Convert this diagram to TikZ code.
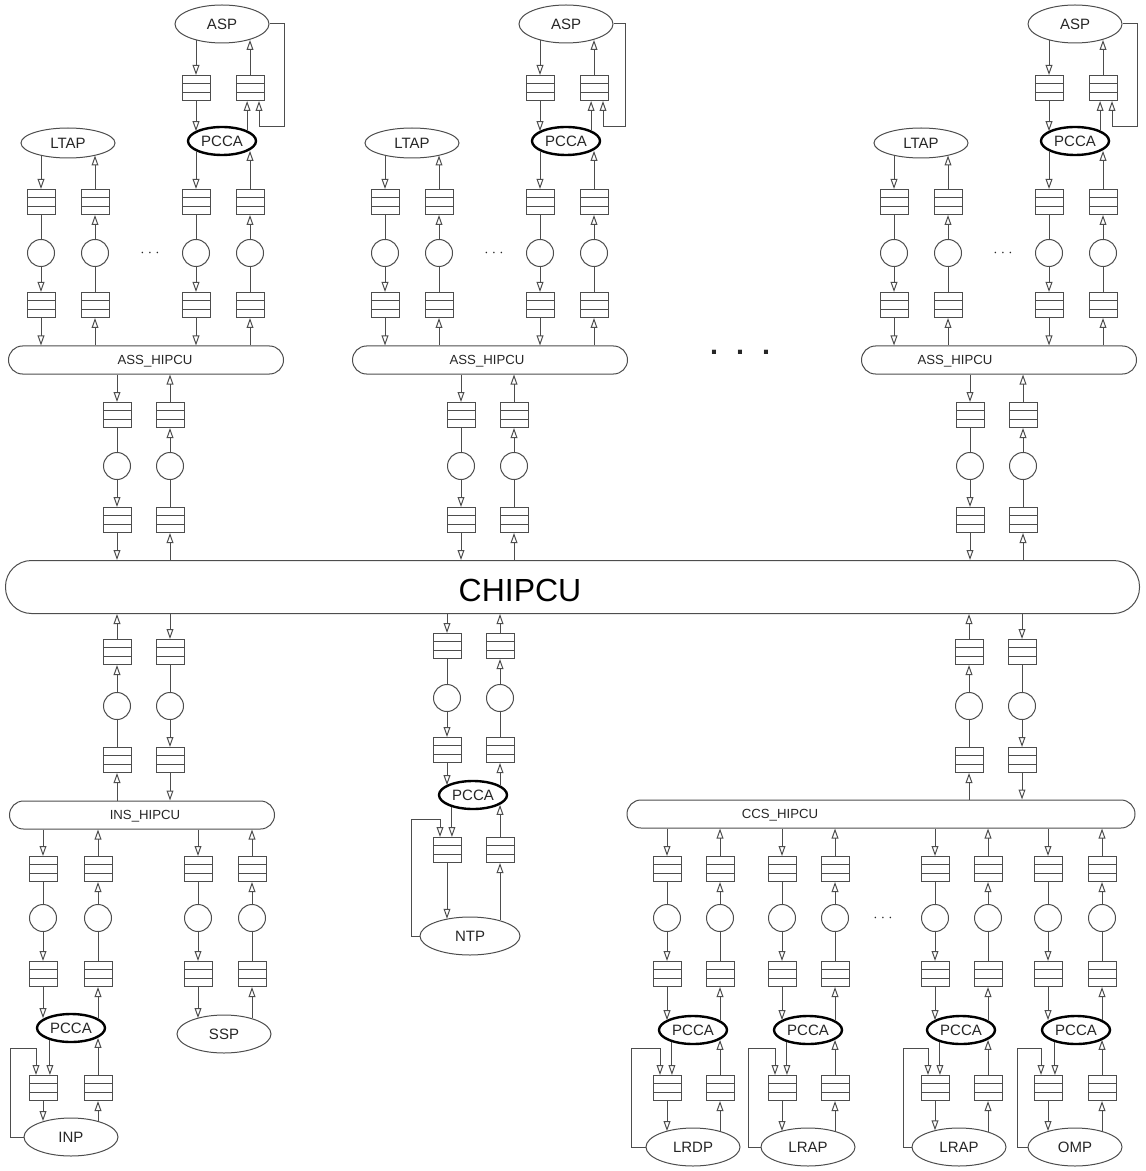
\documentclass[tikz,border=0pt]{standalone}
\usepackage{fontspec}
\setmainfont{Liberation Sans}
\usepackage{tikz}
\usetikzlibrary{arrows.meta,calc,shapes.geometric}
\definecolor{InkGrey}{HTML}{4D4D4D}
% one queue -- server -- queue column, flowing down or up
\newcommand{\chaindown}[5]{%
  \node[qbox] (#1a) at (#2,#3) {};
  \node[srv] (#1b) at (#2,#4) {};
  \node[qbox] (#1c) at (#2,#5) {};
  \draw[qline] (#1a) -- (#1b);
  \draw[qarrow] (#1b) -- (#1c);
}
\newcommand{\chainup}[5]{%
  \node[qbox] (#1a) at (#2,#3) {};
  \node[srv] (#1b) at (#2,#4) {};
  \node[qbox] (#1c) at (#2,#5) {};
  \draw[qline] (#1c) -- (#1b);
  \draw[qarrow] (#1b) -- (#1a);
}

\begin{document}
\begin{tikzpicture}[x=0.5pt, y=-0.5pt, >={Triangle[open,length=5pt,width=3.4pt]},
  every node/.style={font=\fontsize{7.5}{9}\selectfont, text=black!85},
  qbox/.style={draw=InkGrey, line width=0.5pt, minimum width=14pt, minimum height=12.5pt, inner sep=0pt,
    path picture={\draw[InkGrey, line width=0.5pt]
      ([yshift=-4.2pt]path picture bounding box.north west) -- ([yshift=-4.2pt]path picture bounding box.north east)
      ([yshift=4.2pt]path picture bounding box.south west) -- ([yshift=4.2pt]path picture bounding box.south east);}},
  srv/.style={circle, draw=InkGrey, line width=0.5pt, minimum size=13.5pt, inner sep=0pt},
  pcca/.style={ellipse, draw=black, line width=1.2pt, minimum width=34pt, minimum height=14pt, inner sep=0pt},
  proc/.style={ellipse, draw=InkGrey, line width=0.5pt, minimum width=47pt, minimum height=19pt, inner sep=0pt},
  bus/.style={draw=InkGrey, line width=0.5pt, rounded corners=7pt, minimum height=14pt, inner sep=0pt},
  buslabel/.style={font=\fontsize{6.6}{8}\selectfont},
  qline/.style={draw=InkGrey, line width=0.5pt},
  qarrow/.style={qline, ->}]
  \useasboundingbox (0,0) rectangle (1145,1171);

  % central bus
  \node[bus, minimum width=567pt, minimum height=26.5pt, rounded corners=13pt] (chipcu) at (572.5,587) {};
  \node[font=\fontsize{16}{19}\selectfont, text=black] (chipcutxt) at (520,590) {CHIPCU};

  % ---- ASS group, left
  \node[proc] (aspL) at (222,24) {ASP};
  \node[qbox] (aspLa) at (196,88) {};
  \node[qbox] (aspLb) at (250,88) {};
  \node[pcca] (pccaL) at (222,141) {PCCA};
  \node[proc, minimum height=15pt] (ltapL) at (68,143) {LTAP};
  \node[bus, minimum width=137.5pt] (assL) at (146,360) {};
  \node[buslabel] (assLtxt) at (155,361) {ASS\_HIPCU};
  \chaindown{L1}{41}{202}{253}{305}
  \chainup{L2}{95}{202}{253}{305}
  \node (dotsL) at (150,253) {$\cdots$};
  \chaindown{L3}{196}{202}{253}{305}
  \chainup{L4}{250}{202}{253}{305}
  \chaindown{L5}{117}{415}{466}{520}
  \chainup{L6}{170}{415}{466}{520}
  \draw[qarrow] (aspLa |- aspL.-150) -- (aspLa);
  \draw[qarrow] (aspLa) -- (aspLa |- pccaL.160);
  \draw[qarrow] (pccaL.23) -- (pccaL.23 |- aspLb.south);
  \draw[qarrow] (aspL.east) -- ++(15,0) -- ++(0,103) -| ($(aspLb.south)+(9,0)$);
  \draw[qarrow] (aspLb) -- (aspLb |- aspL.-30);
  \draw[qarrow] (L1a |- ltapL.-156) -- (L1a);
  \draw[qarrow] (L1c) -- (L1c |- assL.north);
  \draw[qarrow] (L2c |- assL.north) -- (L2c);
  \draw[qarrow] (L2a) -- (L2a |- ltapL.-24);
  \draw[qarrow] (L3a |- pccaL.-160) -- (L3a);
  \draw[qarrow] (L3c) -- (L3c |- assL.north);
  \draw[qarrow] (L4c |- assL.north) -- (L4c);
  \draw[qarrow] (L4a) -- (L4a |- pccaL.-20);
  \draw[qarrow] (L5a |- assL.south) -- (L5a);
  \draw[qarrow] (L5c) -- (L5c |- chipcu.north);
  \draw[qarrow] (L6c |- chipcu.north) -- (L6c);
  \draw[qarrow] (L6a) -- (L6a |- assL.south);

  % ---- ASS group, middle
  \node[proc] (aspM) at (566,24) {ASP};
  \node[qbox] (aspMa) at (540,88) {};
  \node[qbox] (aspMb) at (594,88) {};
  \node[pcca] (pccaM) at (566,141) {PCCA};
  \node[proc, minimum height=15pt] (ltapM) at (412,143) {LTAP};
  \node[bus, minimum width=137.5pt] (assM) at (490,360) {};
  \node[buslabel] (assMtxt) at (487,361) {ASS\_HIPCU};
  \chaindown{M1}{385}{202}{253}{305}
  \chainup{M2}{439}{202}{253}{305}
  \node (dotsM) at (494,253) {$\cdots$};
  \chaindown{M3}{540}{202}{253}{305}
  \chainup{M4}{594}{202}{253}{305}
  \chaindown{M5}{461}{415}{466}{520}
  \chainup{M6}{514}{415}{466}{520}
  \draw[qarrow] (aspMa |- aspM.-150) -- (aspMa);
  \draw[qarrow] (aspMa) -- (aspMa |- pccaM.160);
  \draw[qarrow] (pccaM.23) -- (pccaM.23 |- aspMb.south);
  \draw[qarrow] (aspM.east) -- ++(12,0) -- ++(0,103) -| ($(aspMb.south)+(9,0)$);
  \draw[qarrow] (aspMb) -- (aspMb |- aspM.-30);
  \draw[qarrow] (M1a |- ltapM.-156) -- (M1a);
  \draw[qarrow] (M1c) -- (M1c |- assM.north);
  \draw[qarrow] (M2c |- assM.north) -- (M2c);
  \draw[qarrow] (M2a) -- (M2a |- ltapM.-24);
  \draw[qarrow] (M3a |- pccaM.-160) -- (M3a);
  \draw[qarrow] (M3c) -- (M3c |- assM.north);
  \draw[qarrow] (M4c |- assM.north) -- (M4c);
  \draw[qarrow] (M4a) -- (M4a |- pccaM.-20);
  \draw[qarrow] (M5a |- assM.south) -- (M5a);
  \draw[qarrow] (M5c) -- (M5c |- chipcu.north);
  \draw[qarrow] (M6c |- chipcu.north) -- (M6c);
  \draw[qarrow] (M6a) -- (M6a |- assM.south);

  \node[font=\bfseries\Large] (gapdots) at (740,352) {.\hspace{9pt}.\hspace{9pt}.};

  % ---- ASS group, right
  \node[proc] (aspR) at (1075,24) {ASP};
  \node[qbox] (aspRa) at (1049,88) {};
  \node[qbox] (aspRb) at (1103,88) {};
  \node[pcca] (pccaR) at (1075,141) {PCCA};
  \node[proc, minimum height=15pt] (ltapR) at (921,143) {LTAP};
  \node[bus, minimum width=137.5pt] (assR) at (999,360) {};
  \node[buslabel] (assRtxt) at (955,361) {ASS\_HIPCU};
  \chaindown{R1}{894}{202}{253}{305}
  \chainup{R2}{948}{202}{253}{305}
  \node (dotsR) at (1003,253) {$\cdots$};
  \chaindown{R3}{1049}{202}{253}{305}
  \chainup{R4}{1103}{202}{253}{305}
  \chaindown{R5}{970}{415}{466}{520}
  \chainup{R6}{1023}{415}{466}{520}
  \draw[qarrow] (aspRa |- aspR.-150) -- (aspRa);
  \draw[qarrow] (aspRa) -- (aspRa |- pccaR.160);
  \draw[qarrow] (pccaR.23) -- (pccaR.23 |- aspRb.south);
  \draw[qarrow] (aspR.east) -- ++(15,0) -- ++(0,103) -| ($(aspRb.south)+(9,0)$);
  \draw[qarrow] (aspRb) -- (aspRb |- aspR.-30);
  \draw[qarrow] (R1a |- ltapR.-156) -- (R1a);
  \draw[qarrow] (R1c) -- (R1c |- assR.north);
  \draw[qarrow] (R2c |- assR.north) -- (R2c);
  \draw[qarrow] (R2a) -- (R2a |- ltapR.-24);
  \draw[qarrow] (R3a |- pccaR.-160) -- (R3a);
  \draw[qarrow] (R3c) -- (R3c |- assR.north);
  \draw[qarrow] (R4c |- assR.north) -- (R4c);
  \draw[qarrow] (R4a) -- (R4a |- pccaR.-20);
  \draw[qarrow] (R5a |- assR.south) -- (R5a);
  \draw[qarrow] (R5c) -- (R5c |- chipcu.north);
  \draw[qarrow] (R6c |- chipcu.north) -- (R6c);
  \draw[qarrow] (R6a) -- (R6a |- assR.south);

  % ---- INS group
  \node[bus, minimum width=132.5pt] (ins) at (142,815) {};
  \node[buslabel] (instxt) at (145,816) {INS\_HIPCU};
  \chainup{I1}{117}{652}{706}{760}
  \chaindown{I2}{170}{652}{706}{760}
  \draw[qarrow] (I1c |- ins.north) -- (I1c);
  \draw[qarrow] (I1a) -- (I1a |- chipcu.south);
  \draw[qarrow] (I2a |- chipcu.south) -- (I2a);
  \draw[qarrow] (I2c) -- (I2c |- ins.north);
  \chaindown{I3}{43}{869}{918}{974}
  \chainup{I4}{98}{869}{918}{974}
  \chaindown{I5}{198}{869}{918}{974}
  \chainup{I6}{252}{869}{918}{974}
  \node[pcca] (pccaI) at (71,1028) {PCCA};
  \node[proc] (ssp) at (224,1034) {SSP};
  \node[qbox] (inpa) at (43,1088) {};
  \node[qbox] (inpb) at (98,1088) {};
  \node[proc] (inp) at (71,1137) {INP};
  \draw[qarrow] (I3a |- ins.south) -- (I3a);
  \draw[qarrow] (I3c) -- (I3c |- pccaI.160);
  \draw[qarrow] (I4c |- pccaI.20) -- (I4c);
  \draw[qarrow] (I4a) -- (I4a |- ins.south);
  \draw[qarrow] (I5a |- ins.south) -- (I5a);
  \draw[qarrow] (I5c) -- (I5c |- ssp.150);
  \draw[qarrow] (I6c |- ssp.30) -- (I6c);
  \draw[qarrow] (I6a) -- (I6a |- ins.south);
  \draw[qarrow] (pccaI.-150) -- (pccaI.-150 |- inpa.north);
  \draw[qarrow] (inp.west) -- ++(-13,0) |- ($(inpa.north)+(-7,-27)$) -- ($(inpa.north)+(-7,0)$);
  \draw[qarrow] (inpa) -- (inpa |- inp.150);
  \draw[qarrow] (inpb |- inp.30) -- (inpb);
  \draw[qarrow] (inpb) -- (inpb |- pccaI.-20);

  % ---- NTP group
  \chaindown{N1}{447}{646}{698}{750}
  \chainup{N2}{500}{646}{698}{750}
  \node[pcca] (pccaN) at (473,795) {PCCA};
  \node[qbox] (ntpa) at (447,850) {};
  \node[qbox] (ntpb) at (500,850) {};
  \node[proc, minimum width=50pt] (ntp) at (470,936) {NTP};
  \draw[qarrow] (N1a |- chipcu.south) -- (N1a);
  \draw[qarrow] (N1c) -- (N1c |- pccaN.160);
  \draw[qarrow] (N2c |- pccaN.20) -- (N2c);
  \draw[qarrow] (N2a) -- (N2a |- chipcu.south);
  \draw[qarrow] (pccaN.-150) -- (pccaN.-150 |- ntpa.north);
  \draw[qarrow] (ntp.west) -- ++(-8,0) |- ($(ntpa.north)+(-7,-18)$) -- ($(ntpa.north)+(-7,0)$);
  \draw[qarrow] (ntpa) -- (ntpa |- ntp.144);
  \draw[qarrow] (ntpb |- ntp.27) -- (ntpb);
  \draw[qarrow] (ntpb) -- (ntpb |- pccaN.-20);

  % ---- CCS group
  \node[bus, minimum width=254pt] (ccs) at (881,814) {};
  \node[buslabel] (ccstxt) at (780,815) {CCS\_HIPCU};
  \chainup{C1}{969}{652}{706}{760}
  \chaindown{C2}{1022}{652}{706}{760}
  \draw[qarrow] (C1c |- ccs.north) -- (C1c);
  \draw[qarrow] (C1a) -- (C1a |- chipcu.south);
  \draw[qarrow] (C2a |- chipcu.south) -- (C2a);
  \draw[qarrow] (C2c) -- (C2c |- ccs.north);
  \chaindown{K1}{667}{869}{918}{974}
  \chainup{K2}{720}{869}{918}{974}
  \chaindown{K3}{782}{869}{918}{974}
  \chainup{K4}{835}{869}{918}{974}
  \node (dotsK) at (883,918) {$\cdots$};
  \chaindown{K5}{935}{869}{918}{974}
  \chainup{K6}{988}{869}{918}{974}
  \chaindown{K7}{1048}{869}{918}{974}
  \chainup{K8}{1102}{869}{918}{974}
  \node[pcca] (pccaK1) at (693,1030) {PCCA};
  \node[pcca] (pccaK2) at (808,1030) {PCCA};
  \node[pcca] (pccaK3) at (961,1030) {PCCA};
  \node[pcca] (pccaK4) at (1076,1030) {PCCA};
  \node[qbox] (lrdpa) at (667,1088) {};
  \node[qbox] (lrdpb) at (720,1088) {};
  \node[qbox] (lrapAa) at (782,1088) {};
  \node[qbox] (lrapAb) at (835,1088) {};
  \node[qbox] (lrapBa) at (935,1088) {};
  \node[qbox] (lrapBb) at (988,1088) {};
  \node[qbox] (ompa) at (1048,1088) {};
  \node[qbox] (ompb) at (1102,1088) {};
  \node[proc] (lrdp) at (693,1147) {LRDP};
  \node[proc] (lrapA) at (808,1147) {LRAP};
  \node[proc] (lrapB) at (959,1147) {LRAP};
  \node[proc] (omp) at (1075,1147) {OMP};
  % pair 1
  \draw[qarrow] (K1a |- ccs.south) -- (K1a);
  \draw[qarrow] (K1c) -- (K1c |- pccaK1.160);
  \draw[qarrow] (K2c |- pccaK1.20) -- (K2c);
  \draw[qarrow] (K2a) -- (K2a |- ccs.south);
  \draw[qarrow] (pccaK1.-150) -- (pccaK1.-150 |- lrdpa.north);
  \draw[qarrow] (lrdp.west) -- ++(-14,0) |- ($(lrdpa.north)+(-7,-27)$) -- ($(lrdpa.north)+(-7,0)$);
  \draw[qarrow] (lrdpa) -- (lrdpa |- lrdp.150);
  \draw[qarrow] (lrdpb |- lrdp.30) -- (lrdpb);
  \draw[qarrow] (lrdpb) -- (lrdpb |- pccaK1.-20);
  % pair 2
  \draw[qarrow] (K3a |- ccs.south) -- (K3a);
  \draw[qarrow] (K3c) -- (K3c |- pccaK2.160);
  \draw[qarrow] (K4c |- pccaK2.20) -- (K4c);
  \draw[qarrow] (K4a) -- (K4a |- ccs.south);
  \draw[qarrow] (pccaK2.-150) -- (pccaK2.-150 |- lrapAa.north);
  \draw[qarrow] (lrapA.west) -- ++(-12,0) |- ($(lrapAa.north)+(-7,-27)$) -- ($(lrapAa.north)+(-7,0)$);
  \draw[qarrow] (lrapAa) -- (lrapAa |- lrapA.150);
  \draw[qarrow] (lrapAb |- lrapA.30) -- (lrapAb);
  \draw[qarrow] (lrapAb) -- (lrapAb |- pccaK2.-20);
  % pair 3
  \draw[qarrow] (K5a |- ccs.south) -- (K5a);
  \draw[qarrow] (K5c) -- (K5c |- pccaK3.160);
  \draw[qarrow] (K6c |- pccaK3.20) -- (K6c);
  \draw[qarrow] (K6a) -- (K6a |- ccs.south);
  \draw[qarrow] (pccaK3.-150) -- (pccaK3.-150 |- lrapBa.north);
  \draw[qarrow] (lrapB.west) -- ++(-8,0) |- ($(lrapBa.north)+(-7,-27)$) -- ($(lrapBa.north)+(-7,0)$);
  \draw[qarrow] (lrapBa) -- (lrapBa |- lrapB.146);
  \draw[qarrow] (lrapBb |- lrapB.27) -- (lrapBb);
  \draw[qarrow] (lrapBb) -- (lrapBb |- pccaK3.-20);
  % pair 4
  \draw[qarrow] (K7a |- ccs.south) -- (K7a);
  \draw[qarrow] (K7c) -- (K7c |- pccaK4.160);
  \draw[qarrow] (K8c |- pccaK4.20) -- (K8c);
  \draw[qarrow] (K8a) -- (K8a |- ccs.south);
  \draw[qarrow] (pccaK4.-150) -- (pccaK4.-150 |- ompa.north);
  \draw[qarrow] (omp.west) -- ++(-10,0) |- ($(ompa.north)+(-7,-27)$) -- ($(ompa.north)+(-7,0)$);
  \draw[qarrow] (ompa) -- (ompa |- omp.150);
  \draw[qarrow] (ompb |- omp.30) -- (ompb);
  \draw[qarrow] (ompb) -- (ompb |- pccaK4.-20);
\end{tikzpicture}
\end{document}
